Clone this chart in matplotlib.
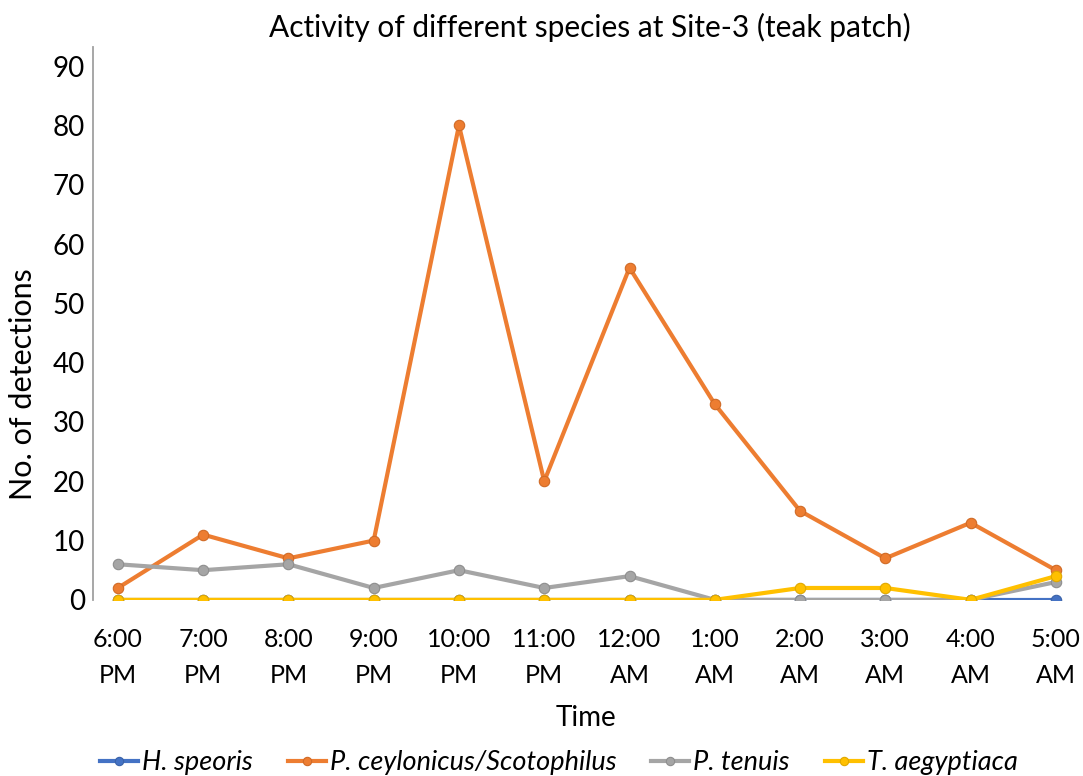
import matplotlib.pyplot as plt

plt.rcParams['font.family'] = ['Lato', 'DejaVu Sans']

hours = ["6:00\nPM", "7:00\nPM", "8:00\nPM", "9:00\nPM", "10:00\nPM", "11:00\nPM",
         "12:00\nAM", "1:00\nAM", "2:00\nAM", "3:00\nAM", "4:00\nAM", "5:00\nAM"]

h_speoris = [0, 0, 0, 0, 0, 0, 0, 0, 0, 0, 0, 0]
p_ceylonicus = [2, 11, 7, 10, 80, 20, 56, 33, 15, 7, 13, 5]
p_tenuis = [6, 5, 6, 2, 5, 2, 4, 0, 0, 0, 0, 3]
t_aegyptiaca = [0, 0, 0, 0, 0, 0, 0, 0, 2, 2, 0, 4]

series = [
    ("H. speoris", h_speoris, "#4472C4", "#3A62A8"),
    ("P. ceylonicus/Scotophilus", p_ceylonicus, "#ED7D31", "#D06A26"),
    ("P. tenuis", p_tenuis, "#A5A5A5", "#8E8E8E"),
    ("T. aegyptiaca", t_aegyptiaca, "#FFC000", "#E0A800"),
]

fig = plt.figure(figsize=(10.83, 7.76), dpi=100)
ax = fig.add_axes([0.086, 0.227, 0.911, 0.713])

x = range(len(hours))
for name, vals, col, edge in series:
    ax.plot(x, vals, color=col, lw=3, marker='o', ms=7.5,
            mfc=col, mec=edge, mew=0.8, label=name)

ax.set_xlim(-0.29, 11.28)
ax.set_ylim(0, 93.3)
ax.set_yticks(range(0, 91, 10))
ax.set_xticks(list(x))
ax.set_xticklabels(hours, fontsize=18, linespacing=1.7)
ax.tick_params(axis='y', labelsize=20, length=0, pad=6)
ax.tick_params(axis='x', length=0, pad=20)

for s in ['top', 'right', 'bottom']:
    ax.spines[s].set_visible(False)
ax.spines['left'].set_color('#A0A0A0')
ax.spines['left'].set_linewidth(1.3)

ax.set_ylabel("No. of detections", fontsize=22)
ax.yaxis.set_label_coords(-0.057, 0.389)
ax.set_xlabel("Time", fontsize=20, labelpad=13)
fig.text(0.545, 0.965, "Activity of different species at Site-3 (teak patch)",
         ha='center', va='center', fontsize=21.5)

leg = fig.legend(loc='center', bbox_to_anchor=(0.516, 0.017), ncol=4, frameon=False,
                 prop={'style': 'italic', 'size': 19.5}, handlelength=1.4,
                 handletextpad=0.15, columnspacing=1.3, markerscale=0.8)

fig.savefig("out.png", dpi=100)
